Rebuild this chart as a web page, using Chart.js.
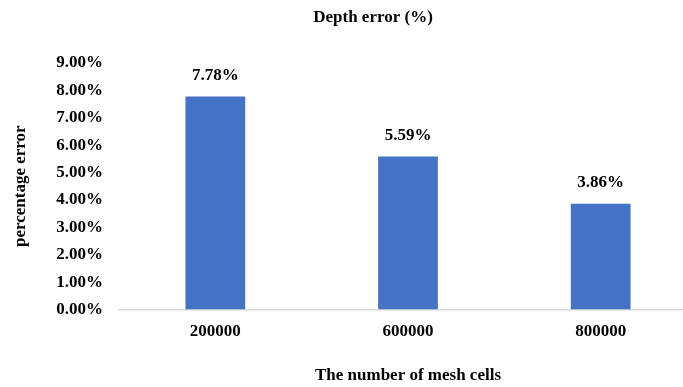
<!DOCTYPE html>
<html>
<head>
<meta charset="utf-8">
<script src="https://cdn.jsdelivr.net/npm/chart.js@4"></script>
<style>
  html, body { margin: 0; padding: 0; background: #ffffff; overflow: hidden; }
  #wrap { width: 683px; height: 387px; overflow: hidden; position: relative; }
  canvas { display: block; }
</style>
</head>
<body>
<div id="wrap"><canvas id="chart" width="700" height="387"></canvas></div>
<script>
// Mesh sizes and the depth error (in percent) measured for each
const meshCells = ['200000', '600000', '800000'];
const depthError = [7.78, 5.59, 3.86];
const yTicks = [0, 1, 2, 3, 4, 5, 6, 7, 8, 9];

const chartTitle = 'Depth error (%)';
const xTitle = 'The number of mesh cells';
const yTitle = 'percentage error';

const FONT = '"Liberation Serif", "Times New Roman", serif';
const SIZE = 17;
const fmt = v => Number(v).toFixed(2) + '%';

// Chart heading, placed over the plot
const headingPlugin = {
  id: 'heading',
  afterDraw(chart) {
    const ctx = chart.ctx;
    ctx.save();
    ctx.font = 'bold ' + SIZE + 'px ' + FONT;
    ctx.fillStyle = '#000000';
    ctx.textAlign = 'center';
    ctx.textBaseline = 'middle';
    ctx.fillText(chartTitle, 373, 18);
    ctx.restore();
  }
};

// Value labels above each bar
const valueLabels = {
  id: 'valueLabels',
  afterDatasetsDraw(chart) {
    const ctx = chart.ctx;
    ctx.save();
    ctx.font = 'bold ' + SIZE + 'px ' + FONT;
    ctx.fillStyle = '#000000';
    ctx.textAlign = 'center';
    ctx.textBaseline = 'middle';
    chart.getDatasetMeta(0).data.forEach((bar, i) => {
      ctx.fillText(fmt(chart.data.datasets[0].data[i]), bar.x, bar.y - 21);
    });
    ctx.restore();
  }
};

new Chart(document.getElementById('chart'), {
  type: 'bar',
  data: {
    labels: meshCells,
    datasets: [{
      data: depthError,
      backgroundColor: '#4472C4',
      borderWidth: 0,
      barPercentage: 0.62,
      categoryPercentage: 0.5
    }]
  },
  options: {
    responsive: false,
    animation: false,
    layout: { padding: { top: 63, right: 3, left: 0, bottom: 0 } },
    plugins: {
      legend: { display: false },
      title: { display: false },
      tooltip: { enabled: false }
    },
    scales: {
      x: {
        grid: { display: false, drawTicks: false },
        border: { display: true, color: '#d9d9d9', width: 1.5 },
        ticks: {
          color: '#000000',
          font: { family: FONT, size: SIZE, weight: 'bold' },
          padding: 12,
          maxRotation: 0
        },
        title: {
          display: true,
          text: xTitle,
          color: '#000000',
          font: { family: FONT, size: SIZE, weight: 'bold' },
          padding: { top: 0, bottom: 1 }
        },
        afterFit(scale) { scale.height = 77.5; }
      },
      y: {
        min: 0,
        max: 9,
        afterBuildTicks(scale) { scale.ticks = yTicks.map(v => ({ value: v })); },
        grid: { display: false, drawTicks: false },
        border: { display: false },
        ticks: {
          color: '#000000',
          font: { family: FONT, size: SIZE, weight: 'bold' },
          padding: 16,
          callback: v => fmt(v)
        },
        title: {
          display: true,
          text: yTitle,
          color: '#000000',
          font: { family: FONT, size: SIZE, weight: 'bold' },
          padding: { top: 10, bottom: 0 }
        },
        afterFit(scale) { scale.width = 119; }
      }
    }
  },
  plugins: [headingPlugin, valueLabels]
});
</script>
</body>
</html>
